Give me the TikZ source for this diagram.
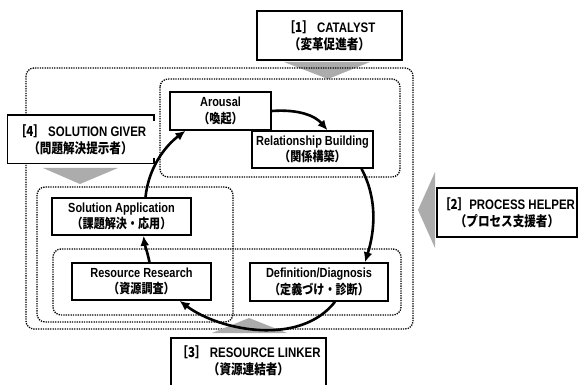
\documentclass[tikz,border=0pt]{standalone}
\usepackage{fontspec}
\setmainfont{Liberation Sans}[FakeStretch=0.83,BoldFont={* Bold}]
\newfontfamily\jp{Noto Sans CJK JP Bold}[FakeStretch=0.84]
\usetikzlibrary{arrows.meta}
\definecolor{tri}{RGB}{172,172,172}
\tikzset{
  box/.style={draw=black,line width=1.5pt,fill=white,align=center,inner sep=0pt,
    font=\bfseries\fontsize{13.2}{16.5}\selectfont},
  rolebox/.style={box,font=\bfseries\fontsize{13.8}{17}\selectfont},
  frame/.style={draw=black,line width=1.3pt,dash pattern=on 1.3pt off 1.1pt,rounded corners=8pt},
  flow/.style={line width=2.6pt,-{Latex[length=10pt,width=9pt]}},
  tri/.style={fill=tri,draw=none},
  txt/.style={align=center,inner sep=0pt,font=\bfseries\fontsize{13.8}{17}\selectfont}
}
\begin{document}
\begin{tikzpicture}[x=1pt,y=-1pt]
\useasboundingbox (0,0) rectangle (581,385);
% top triangle (under frame)
\fill[tri] (284,62) -- (370,62) -- (328,79) -- cycle;
% frames
\draw[frame] (26,68) rectangle (413,329);
\draw[frame] (160,79) rectangle (400,177);
\draw[frame] (37,187) rectangle (233,322);
\draw[frame] (53,249) rectangle (401,315);
% other triangles
\fill[tri] (43,168) -- (118,168) -- (80,184) -- cycle;
\fill[tri] (435,172) -- (435,248) -- (418,210) -- cycle;
\fill[tri] (212,333) -- (287,333) -- (249,318) -- cycle;
% role boxes
\node[rolebox,minimum width=145pt,minimum height=49pt] (cat) at (329.5,35.5)
  {{\jp ［1］} CATALYST\\{\jp （変革促進者）}};
\node[rolebox,minimum width=140pt,minimum height=49pt] (ph) at (507,212.5)
  {{\jp ［2］}PROCESS HELPER\\{\jp （プロセス支援者）}};
\node[rolebox,draw=none,minimum width=145pt,minimum height=47pt] (sg) at (80.5,139.5)
  {{\jp ［4］} SOLUTION GIVER\\{\jp （問題解決提示者）}};
\draw[line width=1.5pt] ([yshift=-6pt]sg.north east) -- (sg.north east) -- (sg.north west)
  -- (sg.south west) -- (sg.south east) -- ([yshift=6pt]sg.south east);
\fill[white] (171,338) rectangle (326,386);
\node[txt] (rl) at (248.5,361) {{\jp ［3］} RESOURCE LINKER\\{\jp （資源連結者）}};
\coordinate (rlbl) at (171,386);
\coordinate (rlbr) at (326,386);
\coordinate (rltl) at (171,338);
\coordinate (rltr) at (326,338);
\draw[line width=1.5pt] (rlbl) -- (rltl) -- (rltr) -- (rlbr);
% stage boxes
\node[box,minimum width=101pt,minimum height=38pt] (aro) at (220.5,111)
  {Arousal\\{\jp （喚起）}};
\node[box,minimum width=121pt,minimum height=37pt] (rel) at (312.5,149.5)
  {Relationship Building\\{\jp （関係構築）}};
\node[box,minimum width=138pt,minimum height=38pt] (def) at (319,282)
  {Definition/Diagnosis\\{\jp （定義づけ・診断）}};
\node[box,minimum width=139pt,minimum height=37pt] (rr) at (141.5,281.5)
  {Resource Research\\{\jp （資源調査）}};
\node[box,minimum width=139pt,minimum height=37pt] (sa) at (121.5,216.5)
  {Solution Application\\{\jp （課題解決・応用）}};
% cycle arrows
\draw[flow] (aro.east) .. controls +(28,-2) and +(-12,-14) .. ([xshift=15pt]rel.north);
\draw[flow] ([xshift=49pt]rel.south) .. controls +(16,30) and +(10,-32) .. ([xshift=46pt]def.north);
\draw[flow] ([xshift=16pt]def.south) .. controls +(-35,45) and +(40,30) .. ([xshift=38pt]rr.south);
\draw[flow] ([xshift=8pt]rr.north) .. controls +(-2,-10) and +(1,8) .. ([xshift=22pt]sa.south);
\draw[flow] ([xshift=24pt]sa.north) .. controls +(3,-30) and +(-20,15) .. ([xshift=-35pt]aro.south);
\end{tikzpicture}
\end{document}
